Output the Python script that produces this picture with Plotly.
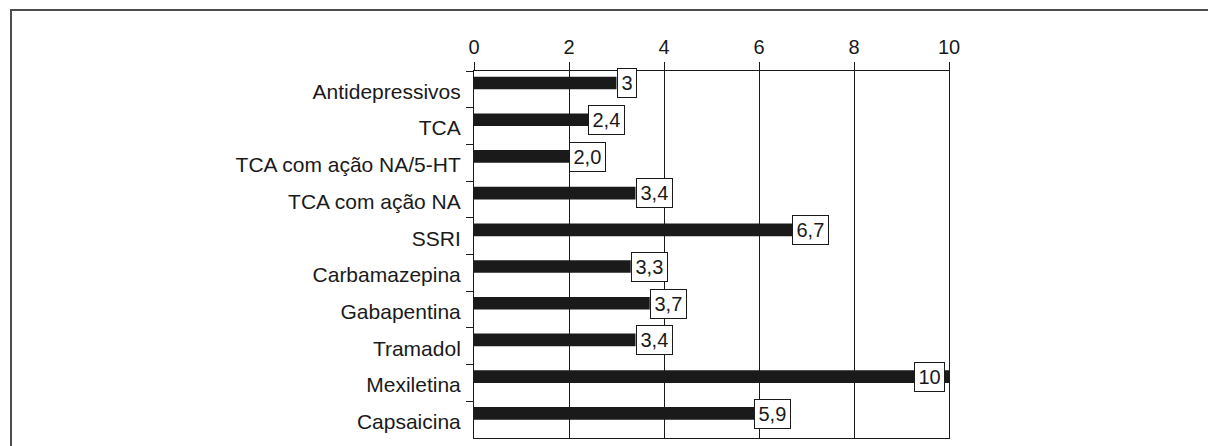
import plotly.graph_objects as go

categories = [
    "Antidepressivos",
    "TCA",
    "TCA com ação NA/5-HT",
    "TCA com ação NA",
    "SSRI",
    "Carbamazepina",
    "Gabapentina",
    "Tramadol",
    "Mexiletina",
    "Capsaicina",
]
values = [3, 2.4, 2.0, 3.4, 6.7, 3.3, 3.7, 3.4, 10, 5.9]
value_labels = ["3", "2,4", "2,0", "3,4", "6,7", "3,3", "3,7", "3,4", "10", "5,9"]
x_ticks = [0, 2, 4, 6, 8, 10]

INK = "#1a1a1a"
FONT = "Liberation Sans, Arial, sans-serif"

fig = go.Figure()

fig.add_trace(go.Bar(
    x=values,
    y=categories,
    orientation="h",
    marker=dict(color=INK, line=dict(width=0)),
    width=0.345,
    offset=-0.345,
    hoverinfo="skip",
))

# boxed value labels at the end of each bar
for cat, val, lab in zip(categories, values, value_labels):
    at_edge = val >= max(x_ticks)
    fig.add_annotation(
        x=val, y=cat, xref="x", yref="y",
        text=lab, showarrow=False,
        xanchor="right" if at_edge else "left",
        xshift=-4 if at_edge else 0,
        yshift=6,
        font=dict(family=FONT, size=20, color=INK),
        bgcolor="white", bordercolor=INK, borderwidth=1, borderpad=3.5,
        height=21,
    )

# outer frame around the figure
fig.add_shape(
    type="rect", xref="paper", yref="paper",
    x0=(11 - 474) / 475, x1=1.7,
    y0=-0.2, y1=(438.5 - 10) / 367.5,
    line=dict(color="#4d4d4d", width=2), fillcolor="rgba(0,0,0,0)",
    layer="below",
)

fig.update_xaxes(
    side="top", range=[0, 10],
    tickvals=x_ticks, ticktext=[str(t) for t in x_ticks],
    ticks="outside", ticklen=8, tickwidth=1, tickcolor=INK,
    showgrid=True, gridcolor=INK, gridwidth=1,
    showline=True, linecolor=INK, linewidth=1, mirror=True,
    zeroline=False,
    tickfont=dict(family=FONT, size=20, color=INK),
    fixedrange=True,
)
fig.update_yaxes(
    type="category", categoryorder="array", categoryarray=categories,
    range=[9.5, -0.5],
    tickson="boundaries", ticks="outside", ticklen=7, tickwidth=1, tickcolor=INK,
    ticklabelstandoff=8, ticklabelshift=-2,
    showgrid=False, showline=True, linecolor=INK, linewidth=1, mirror=True,
    zeroline=False,
    tickfont=dict(family=FONT, size=21, color=INK),
    fixedrange=True,
)

fig.update_layout(
    width=1208, height=446,
    margin=dict(l=474, r=259, t=71, b=8),
    plot_bgcolor="white", paper_bgcolor="white",
    showlegend=False,
    font=dict(family=FONT, color=INK),
)

fig.write_html("out.html", config={"displayModeBar": False})
